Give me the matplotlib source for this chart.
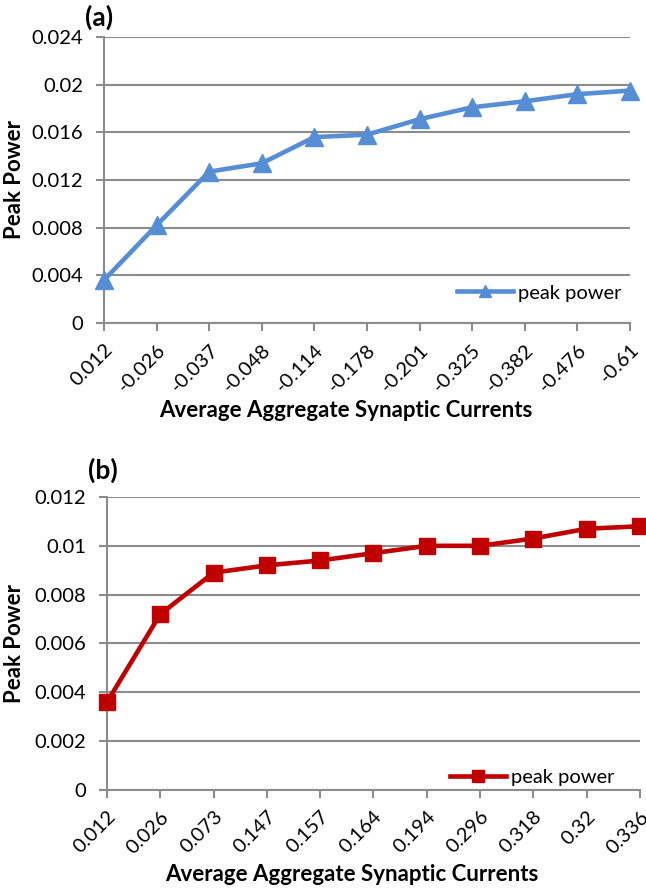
import matplotlib.pyplot as plt

# panel (a)
currents_a = ['0.012', '-0.026', '-0.037', '-0.048', '-0.114', '-0.178',
              '-0.201', '-0.325', '-0.382', '-0.476', '-0.61']
power_a = [0.0036, 0.0082, 0.0127, 0.0134, 0.0156, 0.0158,
           0.0171, 0.0181, 0.0186, 0.0192, 0.0195]
yticks_a = [0, 0.004, 0.008, 0.012, 0.016, 0.02, 0.024]
yticklabels_a = ['0', '0.004', '0.008', '0.012', '0.016', '0.02', '0.024']

# panel (b)
currents_b = ['0.012', '0.026', '0.073', '0.147', '0.157', '0.164',
              '0.194', '0.296', '0.318', '0.32', '0.336']
power_b = [0.0036, 0.0072, 0.0089, 0.0092, 0.0094, 0.0097,
           0.0100, 0.0100, 0.0103, 0.0107, 0.0108]
yticks_b = [0, 0.002, 0.004, 0.006, 0.008, 0.01, 0.012]
yticklabels_b = ['0', '0.002', '0.004', '0.006', '0.008', '0.01', '0.012']

plt.rcParams['font.family'] = ['Lato', 'DejaVu Sans']
GRAY = '#8c8c8c'

fig = plt.figure(figsize=(6.46, 8.91), dpi=100)
ax_a = fig.add_axes([0.161, 0.6375, 0.814, 0.321])
ax_b = fig.add_axes([0.1656, 0.1134, 0.825, 0.3288])


def style_panel(ax, labels, values, yticks, yticklabels, color, marker, ms, tag,
                tag_pos, legend_anchor, xlabel_pos, ylabel_x):
    x = list(range(len(labels)))
    ax.plot(x, values, color=color, lw=3.3, marker=marker, ms=ms,
            label='peak power', clip_on=False, zorder=3)
    ax.set_xlim(0, len(labels) - 1)
    ax.set_ylim(yticks[0], yticks[-1])
    ax.set_yticks(yticks)
    ax.set_yticklabels(yticklabels, fontsize=14.5)
    ax.set_xticks(x)
    ax.set_xticklabels(labels, rotation=45, ha='right', rotation_mode='anchor', fontsize=14.5)
    ax.grid(axis='y', color=GRAY, lw=1.5)
    ax.set_axisbelow(True)
    for side in ['top', 'right']:
        ax.spines[side].set_visible(False)
    for side in ['left', 'bottom']:
        ax.spines[side].set_color(GRAY)
        ax.spines[side].set_linewidth(1.5)
    ax.tick_params(axis='both', color=GRAY, width=1.5, length=6)
    ax.tick_params(axis='x', pad=7)
    ax.tick_params(axis='y', pad=9)
    ax.set_ylabel('Peak Power', fontsize=16, fontweight='bold', va='center')
    ax.yaxis.set_label_coords(ylabel_x, 0.5)
    ax.set_xlabel('Average Aggregate Synaptic Currents', fontsize=16, fontweight='bold')
    ax.xaxis.set_label_coords(*xlabel_pos)
    ax.xaxis.label.set_va('center')
    ax.text(tag_pos[0], tag_pos[1], tag, transform=ax.transAxes, fontsize=19,
            fontweight='bold', ha='left', va='center')
    ax.legend(loc='center right', bbox_to_anchor=legend_anchor, frameon=False,
              fontsize=14.5, handlelength=2.8, handletextpad=0.25,
              borderaxespad=0, borderpad=0, markerscale=0.7)


style_panel(ax_a, currents_a, power_a, yticks_a, yticklabels_a,
            '#558ED5', '^', 13, '(a)', (-0.036, 1.07), (0.985, 0.105),
            (0.46, -0.305), -0.171)
style_panel(ax_b, currents_b, power_b, yticks_b, yticklabels_b,
            '#C00000', 's', 11.5, '(b)', (-0.036, 1.092), (0.953, 0.044),
            (0.46, -0.29), -0.174)

fig.savefig('out.png', dpi=100)
